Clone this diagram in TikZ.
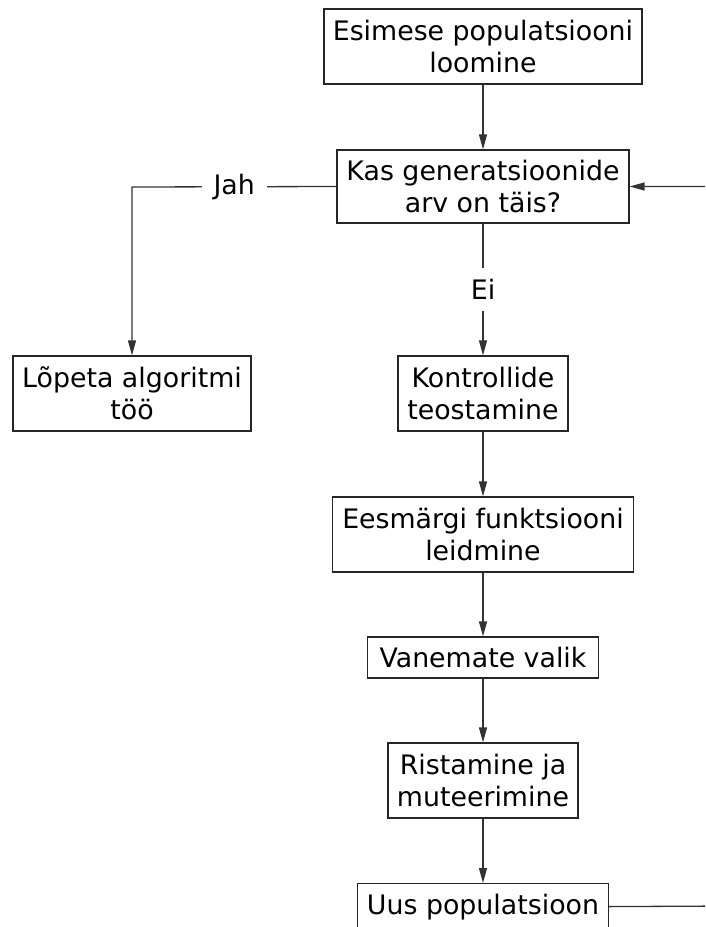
\documentclass[tikz,border=0pt]{standalone}
\usepackage{fontspec}
\setmainfont{DejaVu Sans}
\usetikzlibrary{arrows.meta}
\begin{document}
\begin{tikzpicture}[x=1pt,y=-1pt,
  box/.style={draw=black!85, line width=1.2pt, inner sep=0pt, align=center,
    font=\fontsize{26.8}{32}\selectfont},
  flow/.style={line width=1.3pt, draw=black!80,
    -{Triangle[length=15pt,width=8pt]}},
  lbl/.style={fill=white, font=\fontsize{26.8}{32}\selectfont}]
\useasboundingbox (0,0) rectangle (705,927);
\clip (0,0) rectangle (705,927);

% process boxes
\node[box, minimum width=318pt, minimum height=75pt] (init)  at (483,46.5)  {Esimese populatsiooni\\loomine};
\node[box, minimum width=292pt, minimum height=73pt] (check) at (483,186.5) {Kas generatsioonide\\arv on täis?};
\node[box, minimum width=238pt, minimum height=75pt] (stop)  at (132,393.5) {Lõpeta algoritmi\\töö};
\node[box, minimum width=170pt, minimum height=75pt] (ctrl)  at (483,393.5) {Kontrollide\\teostamine};
\node[box, minimum width=301pt, minimum height=75pt] (fit)   at (483,534.5) {Eesmärgi funktsiooni\\leidmine};
\node[box, minimum width=231pt, minimum height=41pt] (sel)   at (483,657.5) {Vanemate valik};
\node[box, minimum width=190pt, minimum height=75pt] (cross) at (483,780.5) {Ristamine ja\\muteerimine};
\node[box, minimum width=251pt, minimum height=46pt, anchor=north] (newpop) at (483,883) {Uus populatsioon};

% main flow
\draw[flow] (init) -- (check);
\draw[flow] (check) -- node[lbl, inner xsep=4pt, inner ysep=11pt] {Ei} (ctrl);
\draw[flow] (ctrl) -- (fit);
\draw[flow] (fit) -- (sel);
\draw[flow] (sel) -- (cross);
\draw[flow] (cross) -- (newpop);

% exit branch
\coordinate (jahturn) at (132,187);
\draw[flow] (check.west) -- node[lbl, inner xsep=12pt, inner ysep=2pt] {Jah} (jahturn) -- (stop.north);

% loop back from the new population
\coordinate (loopx) at (730,906);
\draw[flow] (newpop.east) -- (loopx) |- (check.east);
\end{tikzpicture}
\end{document}
